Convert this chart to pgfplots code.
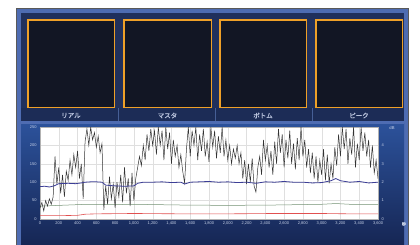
\documentclass[border=0pt]{standalone}
\usepackage{pgfplots}
\pgfplotsset{compat=1.18}
\usepackage{fontspec}
\setmainfont{Liberation Sans}
\newfontfamily\jp[FakeBold=1.2]{Noto Sans CJK JP}
\definecolor{bandblue}{RGB}{78,108,178}
\definecolor{panelblue}{RGB}{32,48,92}
\definecolor{cellbg}{RGB}{18,22,36}
\definecolor{orangeb}{RGB}{238,160,40}
\definecolor{labelrow}{RGB}{28,44,86}
\definecolor{sepblue}{RGB}{70,95,150}
\definecolor{charttop}{RGB}{44,82,155}
\definecolor{chartbot}{RGB}{22,38,84}
\definecolor{labelcol}{RGB}{200,210,232}
\definecolor{jplabel}{RGB}{185,195,220}
\definecolor{lineblue}{RGB}{60,62,150}
\definecolor{linegreen}{RGB}{115,145,115}
\definecolor{linered}{RGB}{225,80,80}
\begin{document}
\begin{tikzpicture}
\useasboundingbox[fill=white] (0bp,0bp) rectangle (420bp,-245bp);
\begin{scope}[x=1bp,y=-1bp]
  % outer panel
  \fill[gray!70!black] (16,8) rectangle (409,245);
  \fill[bandblue] (17,9) rectangle (408,245);
  \fill[panelblue] (21,13) rectangle (404,245);
  % chart panel
  \shade[top color=charttop, bottom color=chartbot] (21,123) rectangle (404,245);
  \fill[bandblue] (21,121) rectangle (404,123.5);
  % label row
  \fill[labelrow] (21,108) rectangle (404,121);
  \foreach \xs in {118,215,312} {\draw[sepblue,line width=0.8bp] (\xs,108) -- (\xs,121);}
  % cells
  \foreach \xa/\xb in {27/115,123/212,219/307,315/403} {
    \fill[cellbg] (\xa,19) rectangle (\xb,108);
    \draw[orangeb, line width=1.5bp] (\xa+0.75,19.75) rectangle (\xb-0.75,107.25);
  }
  \node[text=jplabel,font=\jp\fontsize{6.5}{7}\selectfont] at (71,115.5) {リアル};
  \node[text=jplabel,font=\jp\fontsize{6.5}{7}\selectfont] at (167.5,115.5) {マスタ};
  \node[text=jplabel,font=\jp\fontsize{6.5}{7}\selectfont] at (263,115.5) {ボトム};
  \node[text=jplabel,font=\jp\fontsize{6.5}{7}\selectfont] at (359,115.5) {ピーク};
  \node[text=labelcol,font=\fontsize{4.2}{5}\selectfont] at (392,128.5) {dB};
  \node[text=labelcol,font=\jp\fontsize{4.2}{5}\selectfont] at (404,224) {秒};
\end{scope}
\begin{axis}[
  at={(40bp,-219bp)}, anchor=south west,
  scale only axis, width=338bp, height=92bp,
  xmin=0, xmax=3600, ymin=0, ymax=250,
  xtick={0,200,...,3600}, ytick={0,50,...,250},
  scaled x ticks=false,
  /pgf/number format/assume math mode=true,
  /pgf/number format/1000 sep={,},
  tick label style={font=\fontsize{4}{4.5}\selectfont, text=labelcol},
  xticklabel style={yshift=0.5bp},
  major tick length=0pt,
  grid=major, major grid style={draw=gray!25, line width=0.3bp},
  axis line style={draw=gray!60, line width=0.5bp},
  axis background/.style={fill=white},
  clip=true,
]
\addplot[linered, line width=0.6bp] coordinates {
(0,9) (200,9) (400,10) (480,13) (600,14) (1000,15) (1500,14) (2000,14) (2500,15) (3000,15) (3300,14) (3600,14)};
\addplot[linegreen, line width=0.5bp] coordinates {
(0,35) (200,37) (500,40) (800,39) (1000,40) (1500,38) (2000,37) (2500,38) (3000,40) (3150,42) (3300,40) (3600,40)};
\addplot[black!80, line width=0.5bp] coordinates {
(0,30) (20,45) (40,22) (60,50) (80,35) (100,55) (120,40) (140,60) (160,170) (180,95) (200,140) (220,70) (240,120) (260,60) (280,130) (300,105) (320,160) (340,120) (360,175) (380,140) (400,185) (420,110) (440,150) (460,55) (480,210) (500,245) (520,200) (540,250) (560,215) (580,235) (600,195) (620,225) (640,180) (660,205) (680,25) (700,90) (720,40) (740,115) (760,55) (780,95) (800,30) (820,100) (840,60) (860,120) (880,45) (900,140) (920,70) (940,110) (960,35) (980,125) (1000,50) (1020,110) (1040,140) (1060,170) (1080,145) (1100,200) (1120,160) (1140,230) (1160,185) (1180,245) (1200,200) (1220,240) (1240,175) (1260,250) (1280,200) (1300,240) (1320,160) (1340,250) (1360,190) (1380,235) (1400,150) (1420,215) (1440,170) (1460,200) (1480,140) (1500,175) (1520,130) (1540,98) (1560,190) (1580,250) (1600,170) (1620,240) (1640,200) (1660,250) (1680,160) (1700,230) (1720,185) (1740,245) (1760,170) (1780,210) (1800,155) (1820,250) (1840,195) (1860,240) (1880,165) (1900,225) (1920,180) (1940,250) (1960,170) (1980,215) (2000,160) (2020,200) (2040,150) (2060,190) (2080,165) (2100,200) (2120,150) (2140,180) (2160,110) (2180,160) (2200,95) (2220,150) (2240,100) (2260,165) (2280,90) (2300,73) (2320,140) (2340,170) (2360,120) (2380,215) (2400,160) (2420,200) (2440,140) (2460,185) (2480,120) (2500,210) (2520,150) (2540,245) (2560,180) (2580,230) (2600,140) (2620,215) (2640,165) (2660,240) (2680,150) (2700,205) (2720,135) (2740,220) (2760,160) (2780,250) (2800,170) (2820,215) (2840,140) (2860,190) (2880,125) (2900,180) (2920,110) (2940,170) (2960,100) (2980,160) (3000,120) (3020,190) (3040,105) (3060,175) (3080,97) (3100,150) (3120,110) (3140,195) (3160,145) (3180,230) (3200,170) (3220,250) (3240,190) (3260,245) (3280,150) (3300,220) (3320,175) (3340,250) (3360,140) (3380,205) (3400,160) (3420,250) (3440,185) (3460,235) (3480,170) (3500,215) (3520,140) (3540,200) (3560,125) (3580,160) (3600,110)};
\addplot[lineblue, line width=0.8bp] coordinates {
(0,88) (50,89) (100,87) (150,90) (200,96) (300,97) (380,96) (440,98) (480,100) (540,101) (600,101) (660,100) (700,92) (800,90) (900,89) (1000,90) (1040,97) (1100,100) (1200,100) (1300,101) (1400,99) (1500,100) (1540,95) (1600,100) (1700,101) (1800,102) (1900,100) (2000,101) (2100,99) (2200,100) (2300,97) (2400,101) (2500,100) (2600,102) (2700,100) (2800,100) (2900,98) (3000,99) (3100,104) (3150,110) (3200,104) (3300,100) (3400,102) (3500,98) (3600,100)};
\end{axis}
\begin{axis}[
  at={(40bp,-219bp)}, anchor=south west,
  scale only axis, width=338bp, height=92bp,
  xmin=0, xmax=3600, ymin=0, ymax=5,
  axis y line*=right, axis x line=none,
  ytick={0,1,...,4},
  /pgf/number format/assume math mode=true,
  tick label style={font=\fontsize{4}{4.5}\selectfont, text=labelcol},
  major tick length=0pt,
  axis line style={draw=none},
]
\addplot[draw=none] coordinates {(0,0) (3600,5)};
\end{axis}
\end{tikzpicture}
\end{document}
